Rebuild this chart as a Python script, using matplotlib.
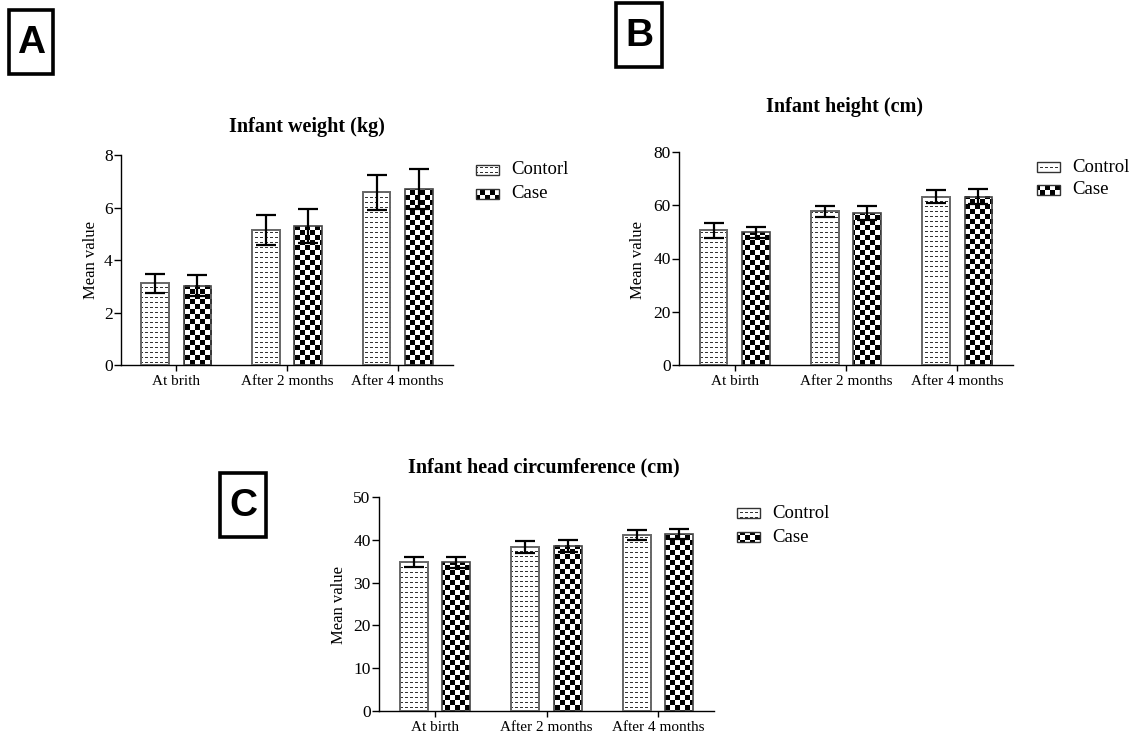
import numpy as np
import matplotlib
matplotlib.use("Agg")
import matplotlib.pyplot as plt
from matplotlib.patches import Rectangle

# ---------------- data ----------------
categories_A = ["At brith", "After 2 months", "After 4 months"]
categories = ["At birth", "After 2 months", "After 4 months"]

weight_control = [3.11, 5.14, 6.58]
weight_control_err = [0.37, 0.58, 0.67]
weight_case = [3.02, 5.29, 6.69]
weight_case_err = [0.41, 0.64, 0.76]

height_control = [50.6, 57.7, 63.2]
height_control_err = [2.8, 2.2, 2.5]
height_case = [49.8, 57.0, 63.2]
height_case_err = [2.0, 2.6, 2.9]

head_control = [34.8, 38.4, 41.1]
head_control_err = [1.2, 1.4, 1.2]
head_case = [34.7, 38.6, 41.3]
head_case_err = [1.3, 1.4, 1.2]

legend_A = ["Contorl", "Case"]
legend_BC = ["Control", "Case"]

# ---------------- style ----------------
plt.rcParams["font.family"] = ["Liberation Serif", "DejaVu Serif"]
W, H = 1132, 732
fig = plt.figure(figsize=(W / 100, H / 100), dpi=100)
fig.patch.set_facecolor("white")


def px_rect(left, right, top, bottom):
    return [left / W, (H - bottom) / H, (right - left) / W, (bottom - top) / H]


def dots_tex(w, h, x0, y0):
    Y, X = np.mgrid[0:h, 0:w]
    X = X + x0
    Y = Y + y0
    arr = np.ones((h, w, 3))
    mask = ((Y % 5) == 2) & ((X % 5) < 3)
    arr[mask] = 0.2
    return arr


def check_tex(w, h, x0, y0):
    Y, X = np.mgrid[0:h, 0:w]
    X = X + x0
    Y = Y + y0
    cell = 5
    arr = np.ones((h, w, 3))
    mask = ((X // cell + Y // cell) % 2) == 0
    arr[mask] = 0.0
    return arr


def apply_texture(ax, patch, kind):
    bb = patch.get_window_extent()
    w = max(int(round(bb.width)), 1)
    h = max(int(round(bb.height)), 1)
    inv = ax.transData.inverted()
    (dx0, dy0) = inv.transform((bb.x0, bb.y0))
    (dx1, dy1) = inv.transform((bb.x1, bb.y1))
    top_px = int(round(H - bb.y1))
    tex = (dots_tex if kind == "dots" else check_tex)(w, h, int(round(bb.x0)), top_px)
    xl, yl = ax.get_xlim(), ax.get_ylim()
    ax.imshow(tex, extent=(dx0, dx1, dy0, dy1), origin="upper",
              interpolation="nearest", aspect="auto", clip_path=patch,
              zorder=patch.get_zorder() - 0.5)
    ax.set_xlim(xl)
    ax.set_ylim(yl)


def panel(rect_px, cats, ctrl, ctrl_err, case, case_err, ymax, ystep):
    ax = fig.add_axes(px_rect(*rect_px))
    x = np.arange(len(cats))
    off, bw = 0.19, 0.25
    b1 = ax.bar(x - off, ctrl, bw, facecolor="none", edgecolor="#666666",
                linewidth=1.4, zorder=3)
    b2 = ax.bar(x + off, case, bw, facecolor="none", edgecolor="#444444",
                linewidth=1.2, zorder=3)
    ax.errorbar(x - off, ctrl, yerr=ctrl_err, fmt="none", ecolor="black",
                elinewidth=1.6, capsize=7, capthick=1.6, zorder=5)
    ax.errorbar(x + off, case, yerr=case_err, fmt="none", ecolor="black",
                elinewidth=1.6, capsize=7, capthick=1.6, zorder=5)
    ax.set_xlim(-0.5, 2.5)
    ax.set_ylim(0, ymax)
    ax.set_yticks(np.arange(0, ymax + 0.01, ystep))
    ax.set_xticks(x)
    ax.set_xticklabels(cats)
    for s in ["top", "right"]:
        ax.spines[s].set_visible(False)
    for s in ["left", "bottom"]:
        ax.spines[s].set_linewidth(1.0)
    ax.tick_params(axis="y", direction="out", length=5, width=1.0,
                   labelsize=12.5, pad=1)
    ax.tick_params(axis="x", direction="out", length=4, width=1.0,
                   labelsize=11, pad=3)
    ax.patch.set_visible(False)
    for p in b1:
        apply_texture(ax, p, "dots")
    for p in b2:
        apply_texture(ax, p, "check")
    return ax


axA = panel((121, 453, 155, 365), categories_A, weight_control, weight_control_err,
            weight_case, weight_case_err, 8, 2)
axB = panel((679, 1013, 152, 365), categories, height_control, height_control_err,
            height_case, height_case_err, 80, 20)
axC = panel((379, 714, 497, 711), categories, head_control, head_control_err,
            head_case, head_case_err, 50, 10)

# overlay in pixel coordinates for titles, labels, legends and panel tags
ov = fig.add_axes([0, 0, 1, 1])
ov.set_xlim(0, W)
ov.set_ylim(H, 0)
ov.axis("off")
ov.patch.set_visible(False)

titles = [("Infant weight (kg)", 307, 127),
          ("Infant height (cm)", 845, 107),
          ("Infant head circumference (cm)", 544, 467)]
for t, tx, ty in titles:
    ov.text(tx, ty, t, ha="center", va="center", fontsize=14.5, fontweight="bold")

for lx, ly in [(91, 260), (638, 260), (339, 605)]:
    ov.text(lx, ly, "Mean value", rotation=90, ha="center", va="center",
            fontsize=12)

legends = [(476, 170, 194, legend_A), (1037, 167, 190, legend_BC),
           (737, 513, 537, legend_BC)]
for lx, y1, y2, labels in legends:
    for yy, lab, kind in [(y1, labels[0], "dots"), (y2, labels[1], "check")]:
        r = Rectangle((lx, yy - 5), 23, 10, facecolor="none",
                      edgecolor="#333333", linewidth=1.0, zorder=4)
        ov.add_patch(r)
        apply_texture(ov, r, kind)
        ov.text(lx + 35, yy, lab, ha="left", va="center", fontsize=13.5)

for letter, x0, x1, y0, y1 in [("A", 9, 53, 10, 74), ("B", 616, 662, 3, 67),
                               ("C", 220, 266, 473, 537)]:
    ov.add_patch(Rectangle((x0, y0), x1 - x0, y1 - y0, facecolor="none",
                           edgecolor="black", linewidth=2.6))
    ov.text((x0 + x1) / 2, (y0 + y1) / 2 + 1, letter, ha="center", va="center",
            fontsize=28, fontweight="bold", family="Liberation Sans")

fig.savefig("out.png", dpi=100)
